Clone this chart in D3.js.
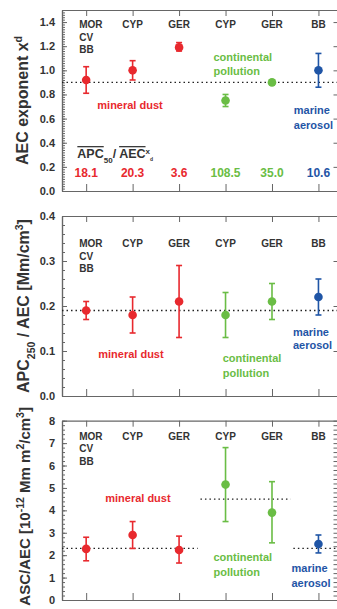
<!DOCTYPE html>
<html>
<head>
<meta charset="utf-8">
<script src="https://cdn.jsdelivr.net/npm/d3@7"></script>
<style>
  body { margin: 0; background: #fff; }
  svg { display: block; font-family: "Liberation Sans", Arial, sans-serif; }
  .axis path, .axis line { stroke: #666; }
  .axis text { fill: #333; font-size: 11px; font-weight: bold; }
</style>
</head>
<body>
<div class="graph"></div>
<script>
// Categories (sites) and their aerosol type
let categories = ["MOR", "CYP", "GER", "CYP", "GER", "BB"];
let types = ["dust", "dust", "dust", "pollution", "pollution", "marine"];
let typeColors = { dust: "#e8292e", pollution: "#6abd45", marine: "#1f55a6" };

// Panel 1: AEC exponent
let exponentMean = [0.92, 1.00, 1.19, 0.75, 0.90, 1.00];
let exponentLow  = [0.81, 0.92, 1.16, 0.70, 0.88, 0.86];
let exponentHigh = [1.03, 1.08, 1.23, 0.80, 0.92, 1.14];
let ratioLabels = ["18.1", "20.3", "3.6", "108.5", "35.0", "10.6"];

// Panel 2: APC250 / AEC
let apcMean = [0.19, 0.18, 0.21, 0.18, 0.21, 0.22];
let apcLow  = [0.17, 0.14, 0.13, 0.13, 0.17, 0.18];
let apcHigh = [0.21, 0.22, 0.29, 0.23, 0.25, 0.26];

// Panel 3: ASC / AEC
let ascMean = [2.28, 2.90, 2.23, 5.15, 3.90, 2.50];
let ascLow  = [1.75, 2.30, 1.65, 3.50, 2.55, 2.10];
let ascHigh = [2.80, 3.50, 2.85, 6.80, 5.28, 2.90];

// Reference (dotted) lines: [from, to, value] in category units
let exponentRef = [[-0.6, 5.5, 0.90]];
let apcRef = [[-0.6, 5.5, 0.19]];
let ascRef = [[-0.6, 2.4, 2.3], [2.46, 4.4, 4.5], [4.46, 5.5, 2.3]];

// Tick values
let exponentTicks = d3.range(0, 1.41, 0.2);
let apcTicks = [0, 0.1, 0.2, 0.3, 0.4];
let ascTicks = d3.range(0, 9, 1);

let width = 337;
let height = 609;
let left = 62;
let right = 337.5;

let svg = d3.select(".graph").append("svg")
  .attr("width", width)
  .attr("height", height);

let x = d3.scaleLinear()
  .domain([-0.52, 5.41])
  .range([left, right]);

let idx = d3.range(categories.length);

let panels = [
  {
    top: 10, bottom: 191, domain: [0, 1.5],
    ticks: exponentTicks, minorStep: 0.02, fmt: d3.format(".1f"), rightMinor: false,
    mean: exponentMean, low: exponentLow, high: exponentHigh, refs: exponentRef,
    catY: 1.35,
    labels: [
      { type: "dust", x: 0.24, y: [0.68], text: ["mineral dust"] },
      { type: "pollution", x: 2.74, y: [1.077, 0.96], text: ["continental", "pollution"] },
      { type: "marine", x: 4.47, y: [0.638, 0.514], text: ["marine", "aerosol"] }
    ],
    ylabel: { x: 28, size: 16, shift: 0, parts: [["AEC exponent x", null], ["d", "super"]] }
  },
  {
    top: 216, bottom: 396, domain: [0, 0.4],
    ticks: apcTicks, minorStep: 0.02, fmt: d3.format(".1f"), rightMinor: false,
    mean: apcMean, low: apcLow, high: apcHigh, refs: apcRef,
    catY: 0.331,
    labels: [
      { type: "dust", x: 0.26, y: [0.0844], text: ["mineral dust"] },
      { type: "pollution", x: 2.94, y: [0.0756, 0.042], text: ["continental", "pollution"] },
      { type: "marine", x: 4.45, y: [0.134, 0.104], text: ["marine", "aerosol"] }
    ],
    ylabel: { x: 29, size: 16, shift: 0, parts: [["APC", null], ["250", "sub"], [" / AEC  [Mm/cm", null], ["3", "super"], ["]", null]] }
  },
  {
    top: 420.7, bottom: 600, domain: [0, 8],
    ticks: ascTicks, minorStep: 0.2, fmt: d3.format("d"), rightMinor: true,
    mean: ascMean, low: ascLow, high: ascHigh, refs: ascRef,
    catY: 7.14,
    labels: [
      { type: "dust", x: 0.41, y: [4.375], text: ["mineral dust"] },
      { type: "pollution", x: 2.74, y: [1.74, 1.07], text: ["continental", "pollution"] },
      { type: "marine", x: 4.42, y: [1.25, 0.58], text: ["marine", "aerosol"] }
    ],
    ylabel: { x: 30, size: 15, shift: -4, parts: [["ASC/AEC  [10", null], ["-12", "super"], [" Mm m", null], ["2", "super"], ["/cm", null], ["3", "super"], ["]", null]] }
  }
];

function drawPanel(p, pi) {
  let y = d3.scaleLinear().domain(p.domain).range([p.bottom, p.top]);
  let g = svg.append("g");
  let minor = d3.range(p.domain[0], p.domain[1] + 1e-9, p.minorStep);

  // minor ticks left
  g.append("g").attr("class", "axis").attr("transform", "translate(" + left + ",0)")
    .call(d3.axisLeft(y).tickValues(minor).tickSize(-3).tickSizeOuter(0).tickFormat(""));
  // major ticks left with labels
  g.append("g").attr("class", "axis").attr("transform", "translate(" + left + ",0)")
    .call(d3.axisLeft(y).tickValues(p.ticks).tickSize(-5).tickSizeOuter(0).tickPadding(7).tickFormat(p.fmt));
  // right axis
  g.append("g").attr("class", "axis").attr("transform", "translate(" + right + ",0)")
    .call(d3.axisRight(y).tickValues(p.rightMinor ? minor : p.ticks).tickSize(-4).tickSizeOuter(0).tickFormat(""));
  // top and bottom
  g.append("g").attr("class", "axis").attr("transform", "translate(0," + p.top + ")")
    .call(d3.axisTop(x).tickValues(idx).tickSize(-6).tickSizeOuter(0).tickFormat(""));
  g.append("g").attr("class", "axis").attr("transform", "translate(0," + p.bottom + ")")
    .call(d3.axisBottom(x).tickValues(idx).tickSize(-7).tickSizeOuter(0).tickFormat(""));
  g.selectAll(".axis path").attr("stroke-width", 1.2);

  // y label
  let yl = g.append("text")
    .attr("transform", "translate(" + p.ylabel.x + "," + ((p.top + p.bottom) / 2 + p.ylabel.shift) + ") rotate(-90)")
    .attr("text-anchor", "middle")
    .attr("font-size", p.ylabel.size).attr("font-weight", "bold").attr("fill", "#333");
  p.ylabel.parts.forEach(([t, shift]) => {
    let s = yl.append("tspan").text(t);
    if (shift) s.attr("baseline-shift", shift).attr("font-size", 10.5);
  });

  // category labels
  idx.forEach(i => {
    let lines = i === 0 ? ["MOR", "CV", "BB"] : [categories[i]];
    lines.forEach((t, k) => {
      g.append("text")
        .attr("x", i === 0 ? x(i) - 7 : x(i))
        .attr("y", y(p.catY) + k * 12.5)
        .attr("text-anchor", i === 0 ? "start" : "middle")
        .attr("font-size", 10).attr("font-weight", "bold").attr("fill", "#333")
        .text(t);
    });
  });

  // dotted reference lines
  g.selectAll(".ref").data(p.refs).join("line")
    .attr("x1", d => Math.max(left, x(d[0])))
    .attr("x2", d => Math.min(right, x(d[1])))
    .attr("y1", d => y(d[2])).attr("y2", d => y(d[2]))
    .attr("stroke", "#222").attr("stroke-width", 1.3)
    .attr("stroke-dasharray", "1.5,3");

  // error bars
  let eb = g.selectAll(".eb").data(idx).join("g")
    .attr("stroke", i => typeColors[types[i]]).attr("stroke-width", 1.6);
  eb.append("line")
    .attr("x1", i => x(i)).attr("x2", i => x(i))
    .attr("y1", i => y(p.low[i])).attr("y2", i => y(p.high[i]));
  eb.append("line")
    .attr("x1", i => x(i) - 3).attr("x2", i => x(i) + 3)
    .attr("y1", i => y(p.low[i])).attr("y2", i => y(p.low[i]));
  eb.append("line")
    .attr("x1", i => x(i) - 3).attr("x2", i => x(i) + 3)
    .attr("y1", i => y(p.high[i])).attr("y2", i => y(p.high[i]));

  g.selectAll(".dot").data(idx).join("circle")
    .attr("cx", i => x(i)).attr("cy", i => y(p.mean[i])).attr("r", 4.3)
    .attr("fill", i => typeColors[types[i]]);

  // type labels
  p.labels.forEach(l => {
    l.text.forEach((t, k) => {
      g.append("text")
        .attr("x", x(l.x)).attr("y", y(l.y[k]))
        .attr("font-size", 11).attr("font-weight", "bold")
        .attr("fill", typeColors[l.type])
        .text(t);
    });
  });

  return y;
}

let yExp = drawPanel(panels[0], 0);
drawPanel(panels[1], 1);
drawPanel(panels[2], 2);

// ratio formula and values in panel 1
let f = svg.append("text")
  .attr("x", x(-0.19)).attr("y", yExp(0.273))
  .attr("font-size", 12.5).attr("font-weight", "bold").attr("fill", "#333");
f.append("tspan").text("APC").style("text-decoration", "overline");
f.append("tspan").text("50").attr("baseline-shift", "sub").attr("font-size", 8);
f.append("tspan").text("/ ");
f.append("tspan").text("AEC").style("text-decoration", "overline");
f.append("tspan").text("x").attr("baseline-shift", "super").attr("font-size", 8);
f.append("tspan").text("d").attr("baseline-shift", "sub").attr("font-size", 5);

svg.selectAll(".ratio").data(idx).join("text")
  .attr("x", i => x(i)).attr("y", yExp(0.112))
  .attr("text-anchor", "middle")
  .attr("font-size", 12).attr("font-weight", "bold")
  .attr("fill", i => typeColors[types[i]])
  .text(i => ratioLabels[i]);
</script>
</body>
</html>
